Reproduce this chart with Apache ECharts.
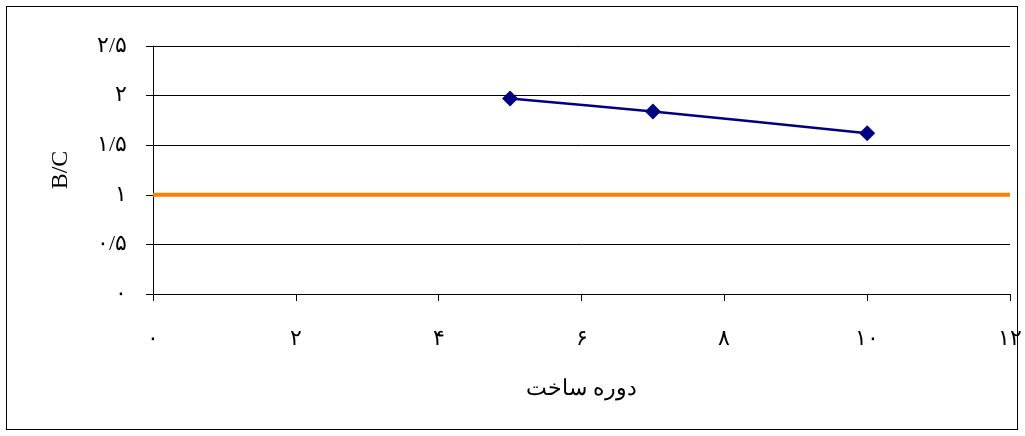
<!DOCTYPE html>
<html><head><meta charset="utf-8">
<script src="https://cdn.jsdelivr.net/npm/echarts@6/dist/echarts.min.js"></script>
<style>html,body{margin:0;background:#fff}#c{width:1025px;height:436px}
#frame{position:absolute;left:6px;top:6px;width:1012px;height:424px;border:1px solid #000;box-sizing:border-box;pointer-events:none}</style>
</head><body><div id="c"></div><div id="frame"></div>
<script>
var years = [5, 7, 10];
var bcValues = [1.97, 1.84, 1.62];
var baseline = [[0, 1], [12, 1]];
var yLabels = ['۰', '۰/۵', '۱', '۱/۵', '۲', '۲/۵'];
var xLabels = ['۰', '۲', '۴', '۶', '۸', '۱۰', '۱۲'];

var chart = echarts.init(document.getElementById('c'));
var font = '"Liberation Serif","DejaVu Serif",serif';
chart.setOption({
  animation: false,
  grid: {left: 153, right: 10, top: 46, bottom: 142},
  xAxis: {
    type: 'value', min: 0, max: 12, interval: 2,
    name: 'دوره ساخت', nameLocation: 'middle', nameGap: 84,
    nameTextStyle: {fontFamily: font, fontSize: 22, color: '#000'},
    axisLine: {show: true, lineStyle: {color: '#000'}},
    axisTick: {show: true, length: 7, inside: false, lineStyle: {color: '#000'}},
    splitLine: {show: false},
    axisLabel: {margin: 34, fontFamily: font, fontSize: 22, color: '#000',
      formatter: function (v) { return xLabels[v / 2]; }}
  },
  yAxis: {
    type: 'value', min: 0, max: 2.5, interval: 0.5,
    name: 'B/C', nameLocation: 'middle', nameGap: 80, nameRotate: 90,
    nameTextStyle: {fontFamily: font, fontSize: 24, color: '#000'},
    axisLine: {show: true, lineStyle: {color: '#000'}},
    axisTick: {show: true, length: 7, lineStyle: {color: '#000'}},
    splitLine: {show: true, lineStyle: {color: '#000', width: 1}},
    axisLabel: {margin: 26, fontFamily: font, fontSize: 22, color: '#000',
      formatter: function (v) { return yLabels[Math.round(v * 2)]; }}
  },
  series: [
    {type: 'line', data: baseline, symbol: 'none', lineStyle: {color: '#ff7f00', width: 4}},
    {type: 'line', data: years.map(function (x, i) { return [x, bcValues[i]]; }),
      smooth: 0.3, symbol: 'diamond', symbolSize: 16,
      itemStyle: {color: '#000080'}, lineStyle: {color: '#000080', width: 2.5}}
  ]
});
</script></body></html>
